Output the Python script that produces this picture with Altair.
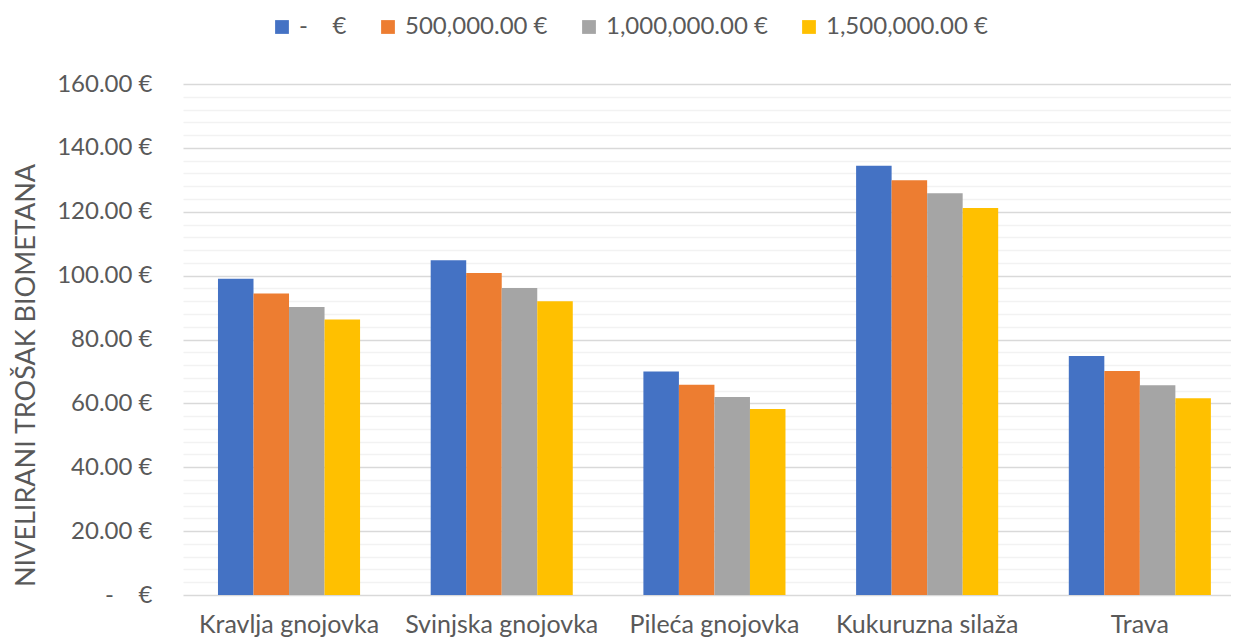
import altair as alt
import pandas as pd

categories = ["Kravlja gnojovka", "Svinjska gnojovka", "Pileća gnojovka", "Kukuruzna silaža", "Trava"]
series = ["-\u00a0\u00a0\u00a0\u00a0€", "500,000.00 €", "1,000,000.00 €", "1,500,000.00 €"]
s0 = [99.0, 104.8, 70.0, 134.4, 74.8]
s1 = [94.4, 100.8, 65.8, 129.9, 70.1]
s2 = [90.2, 96.1, 62.0, 125.8, 65.7]
s3 = [86.3, 92.0, 58.2, 121.2, 61.6]
colors = ["#4472C4", "#ED7D31", "#A5A5A5", "#FFC000"]
y_ticks = list(range(0, 161, 4))

rows = []
for s_name, vals in zip(series, [s0, s1, s2, s3]):
    for c, v in zip(categories, vals):
        rows.append({"category": c, "series": s_name, "value": v})
df = pd.DataFrame(rows)

FONT = "Lato"
TXT = "#595959"
zero_lbl = "-\u00a0\u00a0\u00a0\u00a0€"

chart = alt.Chart(df).mark_bar().encode(
    x=alt.X("category:N", sort=categories, title=None,
            scale=alt.Scale(paddingInner=0.332, paddingOuter=0.1295, align=0.635),
            axis=alt.Axis(labelAngle=0, domain=False, ticks=False, labelPadding=17, labelLimit=0,
                          labelFontSize=25, labelColor=TXT, labelFont=FONT)),
    xOffset=alt.XOffset("series:N", sort=series, scale=alt.Scale(paddingInner=0, paddingOuter=0)),
    y=alt.Y("value:Q", title="NIVELIRANI TROŠAK BIOMETANA",
            scale=alt.Scale(domain=[0, 160], nice=False),
            axis=alt.Axis(values=y_ticks, domain=False, ticks=False, labelOverlap=False,
                          labelExpr="datum.value % 20 != 0 ? '' : (datum.value == 0 ? '" + zero_lbl + "' : format(datum.value, ',.2f') + ' €')",
                          labelFontSize=24, labelColor=TXT, labelFont=FONT, labelPadding=31,
                          gridColor={"condition": {"test": "datum.value % 20 == 0", "value": "#D9D9D9"}, "value": "#F2F2F2"},
                          gridWidth=1.6,
                          titleFont=FONT, titleFontSize=27, titleColor=TXT, titleFontWeight="normal",
                          titleX=-157, titleY=291, titleAlign="center", titleBaseline="middle")),
    color=alt.Color("series:N", sort=series,
                    scale=alt.Scale(domain=series, range=colors),
                    legend=alt.Legend(title=None, orient="none", direction="horizontal",
                                      legendX=87, legendY=-69, symbolType="square", symbolSize=190,
                                      symbolStrokeWidth=0, columnPadding=29, labelOffset=5, labelLimit=0,
                                      labelFont=FONT, labelFontSize=24, labelColor=TXT, padding=0)),
).properties(
    width=1048, height=511,
    autosize=alt.AutoSizeParams(type="none"),
    padding={"left": 175, "top": 76, "right": 0, "bottom": 45},
).configure_view(stroke=None)

chart.save("out.html", embed_options={"renderer": "svg", "actions": False})
